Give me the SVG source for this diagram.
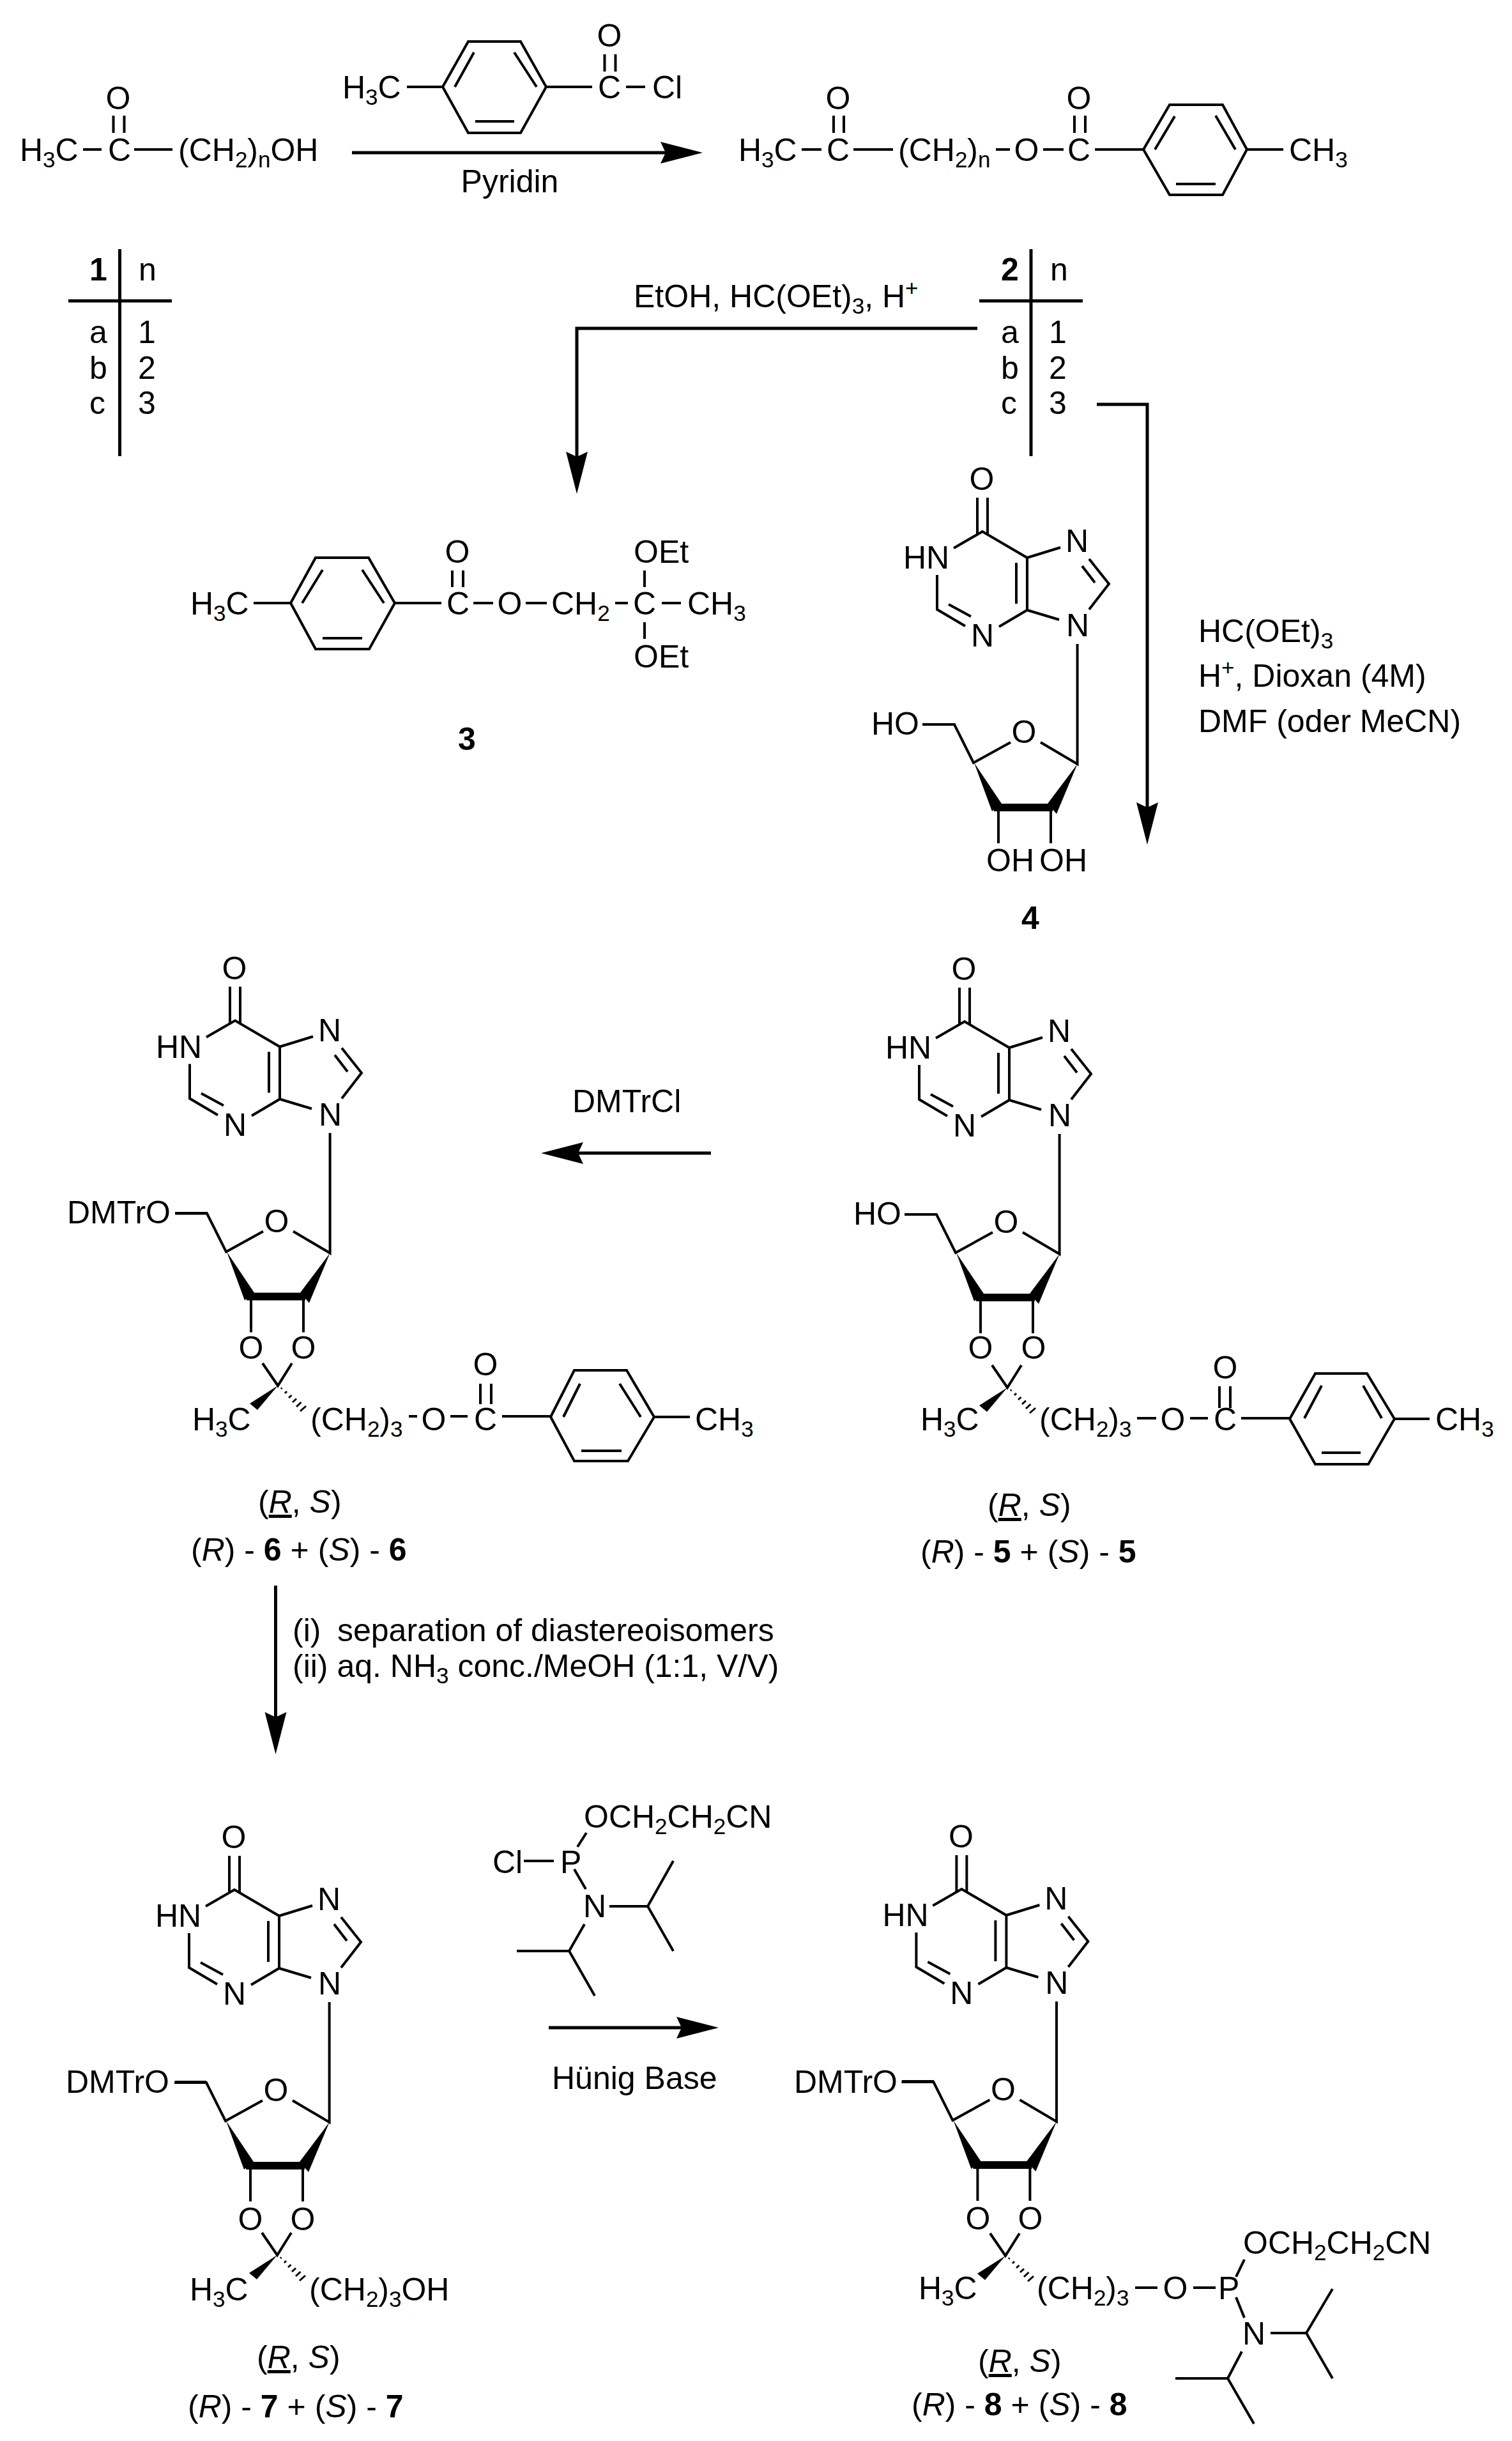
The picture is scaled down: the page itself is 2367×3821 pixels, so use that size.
<svg xmlns="http://www.w3.org/2000/svg" xmlns:xlink="http://www.w3.org/1999/xlink" width="2367" height="3821" viewBox="0 0 2367 3821">
<style>
text{font-family:"Liberation Sans",Arial,sans-serif;font-size:50px;fill:#000}
.m{text-anchor:middle}
.s{font-size:35px}
.b{font-weight:bold}
.i{font-style:italic}
.u{text-decoration:underline}
.bd,.bd line,.bd polyline{stroke:#000;stroke-width:4;fill:none;stroke-linejoin:miter}
.ar{stroke:#000;stroke-width:5;fill:none}
.tb{stroke:#000;stroke-width:5;fill:none}
.w{fill:#000;stroke:none}
</style>
<defs>
<marker id="head" markerUnits="userSpaceOnUse" markerWidth="66" markerHeight="36" viewBox="0 0 66 36" refX="8" refY="18" orient="auto"><path d="M0,1 L66,18 L0,35 L8,18 Z" fill="#000"/></marker>
<g id="sugarbase">
<g class="bd">
<line x1="1530" y1="779" x2="1530" y2="838"/><line x1="1546" y1="779" x2="1546" y2="838"/>
<polyline points="1493,858 1538,832 1608,873 1660,857"/>
<polyline points="1705,875 1736,914 1705,954"/>
<line x1="1694" y1="886" x2="1714" y2="912"/>
<polyline points="1658,970 1608,955 1564,981"/>
<line x1="1608" y1="873" x2="1608" y2="955"/>
<line x1="1591" y1="881" x2="1591" y2="945"/>
<polyline points="1511,980 1467,954 1467,900"/>
<line x1="1520" y1="965" x2="1485" y2="946"/>
<polyline points="1629,1162 1686.6,1196 1686.6,1008"/>
<polyline points="1582,1162 1524,1194 1494,1134 1444,1134"/>
<line x1="1563" y1="1268" x2="1563" y2="1320"/><line x1="1645" y1="1268" x2="1645" y2="1320"/>
</g>
<polygon class="w" points="1525,1194 1568,1258 1553,1270"/>
<polygon class="w" points="1686.6,1196 1640,1258 1654,1274"/>
<rect class="w" x="1556" y="1258" width="92" height="12"/>
</g>
<g id="ketal">
<g class="bd"><polyline points="-24,-35 0,0 22,-35"/></g>
<polygon class="w" points="0,0 -44,28 -32,38"/>
<g stroke="#000" stroke-width="3">
<line x1="5" y1="5" x2="6.5" y2="3.5"/><line x1="11" y1="12" x2="14" y2="9"/><line x1="17" y1="19" x2="21.5" y2="15"/><line x1="23" y1="26" x2="29" y2="20.5"/><line x1="29" y1="33" x2="36.5" y2="26"/><line x1="35" y1="40" x2="44" y2="32"/>
</g>
</g>
</defs>
<rect width="2367" height="3821" fill="#fff"/>

<g id="connectors">
<line class="ar" x1="551" y1="239" x2="1042" y2="239" marker-end="url(#head)"/>
<polyline class="ar" points="1530,514 903,514 903,715" marker-end="url(#head)"/>
<polyline class="ar" points="1717,633 1796,633 1796,1264" marker-end="url(#head)"/>
<line class="ar" x1="1113" y1="1805" x2="905" y2="1805" marker-end="url(#head)"/>
<line class="ar" x1="431.500" y1="2482" x2="431.500" y2="2688" marker-end="url(#head)"/>
<line class="ar" x1="859" y1="3174" x2="1067" y2="3174" marker-end="url(#head)"/>
</g>

<g id="label-pyridin"><text class="m" x="798" y="301">Pyridin</text></g>
<g id="label-etoh"><text x="992" y="481">EtOH, HC(OEt)<tspan class="s" dy="10">3</tspan><tspan dy="-10">, H</tspan><tspan class="s" dy="-18">+</tspan></text></g>
<g id="label-orthoformate"><text x="1876" y="1005">HC(OEt)<tspan class="s" dy="10">3</tspan></text><text x="1876" y="1075">H<tspan class="s" dy="-18">+</tspan><tspan dy="18">, Dioxan (4M)</tspan></text><text x="1876" y="1146">DMF (oder MeCN)</text></g>
<g id="label-dmtrcl"><text x="896" y="1741">DMTrCl</text></g>
<g id="label-separation"><text x="458" y="2569">(i)</text><text x="528" y="2569">separation of diastereoisomers</text><text x="458" y="2625">(ii) aq. NH<tspan class="s" dy="10">3</tspan><tspan dy="-10"> conc./MeOH (1:1, V/V)</tspan></text></g>
<g id="label-hunig"><text x="864" y="3270">Hünig Base</text></g>

<g id="mol-1">
<text x="31" y="252">H<tspan class="s" dy="10">3</tspan><tspan dy="-10">C</tspan></text>
<text class="m" x="187" y="252">C</text>
<text class="m" x="185" y="171">O</text>
<text x="279" y="252">(CH<tspan class="s" dy="10">2</tspan><tspan dy="-10">)</tspan><tspan class="s" dy="10">n</tspan><tspan dy="-10">OH</tspan></text>
<g class="bd"><line x1="130" y1="234" x2="159" y2="234"/><line x1="210" y1="234" x2="270" y2="234"/><line x1="177.500" y1="181" x2="177.500" y2="208"/><line x1="194.500" y1="181" x2="194.500" y2="208"/></g>
</g>

<g id="reagent-toluoyl-chloride">
<text x="536" y="154">H<tspan class="s" dy="10">3</tspan><tspan dy="-10">C</tspan></text>
<text class="m" x="954" y="154">C</text><text class="m" x="954" y="73">O</text><text x="1021" y="154">Cl</text>
<g class="bd"><line x1="637" y1="136" x2="693" y2="136"/><polygon points="693,136 733,65 815,65 855,136 815,208 733,208"/><line x1="712" y1="136" x2="742" y2="82"/><line x1="805" y1="82" x2="840" y2="136"/><line x1="744" y1="190" x2="805" y2="190"/><line x1="855" y1="136" x2="927" y2="136"/><line x1="980" y1="136" x2="1010" y2="136"/><line x1="946.500" y1="85" x2="946.500" y2="112"/><line x1="963.500" y1="85" x2="963.500" y2="112"/></g>
</g>

<g id="table-1">
<g class="tb"><line x1="187.500" y1="390" x2="187.500" y2="714"/><line x1="107" y1="471" x2="269" y2="471"/></g>
<text class="b" x="140" y="439">1</text><text x="217" y="439">n</text>
<text x="140" y="537">a</text><text x="216" y="537">1</text>
<text x="140" y="593">b</text><text x="216" y="593">2</text>
<text x="140" y="648">c</text><text x="216" y="648">3</text>
</g>

<g id="mol-2">
<text x="1156" y="252">H<tspan class="s" dy="10">3</tspan><tspan dy="-10">C</tspan></text>
<text class="m" x="1312" y="252">C</text><text class="m" x="1312" y="171">O</text>
<text x="1406" y="252">(CH<tspan class="s" dy="10">2</tspan><tspan dy="-10">)</tspan><tspan class="s" dy="10">n</tspan></text>
<text class="m" x="1607" y="252">O</text><text class="m" x="1689" y="252">C</text><text class="m" x="1689" y="171">O</text>
<text x="2018" y="252">CH<tspan class="s" dy="10">3</tspan></text>
<g class="bd"><line x1="1255" y1="234" x2="1286" y2="234"/><line x1="1336" y1="234" x2="1398" y2="234"/><line x1="1305" y1="181" x2="1305" y2="208"/><line x1="1321" y1="181" x2="1321" y2="208"/><line x1="1559" y1="234" x2="1581" y2="234"/><line x1="1633" y1="234" x2="1665" y2="234"/><line x1="1682" y1="181" x2="1682" y2="208"/><line x1="1699" y1="181" x2="1699" y2="208"/><line x1="1714" y1="234" x2="1790" y2="234"/><polygon points="1790,234 1831,164 1914,164 1952,234 1914,305 1831,305"/><line x1="1808" y1="234" x2="1839" y2="182"/><line x1="1903" y1="181" x2="1934" y2="234"/><line x1="1841" y1="288" x2="1903" y2="288"/><line x1="1952" y1="234" x2="2009" y2="234"/></g>
</g>

<g id="table-2">
<g class="tb"><line x1="1614" y1="390" x2="1614" y2="714"/><line x1="1533" y1="471" x2="1695" y2="471"/></g>
<text class="b" x="1567" y="439">2</text><text x="1644" y="439">n</text>
<text x="1567" y="537">a</text><text x="1642" y="537">1</text>
<text x="1567" y="593">b</text><text x="1642" y="593">2</text>
<text x="1567" y="648">c</text><text x="1642" y="648">3</text>
</g>

<g id="mol-3">
<text x="298" y="962">H<tspan class="s" dy="10">3</tspan><tspan dy="-10">C</tspan></text>
<text class="m" x="717" y="962">C</text><text class="m" x="716" y="881">O</text><text class="m" x="798" y="962">O</text>
<text x="863" y="962">CH<tspan class="s" dy="10">2</tspan></text>
<text class="m" x="1009" y="962">C</text><text x="1076" y="962">CH<tspan class="s" dy="10">3</tspan></text>
<text x="992" y="881">OEt</text><text x="992" y="1045">OEt</text>
<text class="b m" x="731" y="1174">3</text>
<g class="bd"><line x1="397" y1="944" x2="455" y2="944"/><polygon points="455,944 494,873 577,873 618,944 578,1016 494,1016"/><line x1="473" y1="944" x2="505" y2="892"/><line x1="567" y1="892" x2="601" y2="944"/><line x1="505" y1="999" x2="567" y2="999"/><line x1="618" y1="944" x2="691" y2="944"/><line x1="708" y1="893" x2="708" y2="919"/><line x1="725" y1="893" x2="725" y2="919"/><line x1="741" y1="944" x2="772" y2="944"/><line x1="823" y1="944" x2="856" y2="944"/><line x1="963" y1="944" x2="983" y2="944"/><line x1="1036" y1="944" x2="1066" y2="944"/><line x1="1009" y1="893" x2="1009" y2="919"/><line x1="1009" y1="974" x2="1009" y2="1000"/></g>
</g>

<g id="mol-4">
<use href="#sugarbase" xlink:href="#sugarbase"/>
<text class="m" x="1537" y="767">O</text><text x="1414" y="890">HN</text><text class="m" x="1686" y="864">N</text><text class="m" x="1687" y="996">N</text><text class="m" x="1538" y="1012">N</text><text class="m" x="1603" y="1163">O</text>
<text x="1364" y="1150">HO</text><text x="1544" y="1364">OH</text><text x="1627" y="1364">OH</text>
<text class="b m" x="1613" y="1454">4</text>
</g>

<g id="mol-5">
<g transform="translate(-28,767)"><use href="#sugarbase" xlink:href="#sugarbase"/>
<text class="m" x="1537" y="767">O</text><text x="1414" y="890">HN</text><text class="m" x="1686" y="864">N</text><text class="m" x="1687" y="996">N</text><text class="m" x="1538" y="1012">N</text><text class="m" x="1603" y="1163">O</text><text x="1364" y="1150">HO</text></g>
<text class="m" x="1535" y="2127">O</text><text class="m" x="1618" y="2127">O</text>
<use href="#ketal" xlink:href="#ketal" x="1577" y="2172"/>
<text x="1441" y="2239">H<tspan class="s" dy="10">3</tspan><tspan dy="-10">C</tspan></text>
<text x="1627" y="2239">(CH<tspan class="s" dy="10">2</tspan><tspan dy="-10">)</tspan><tspan class="s" dy="10">3</tspan></text>
<text class="m" x="1836" y="2239">O</text><text class="m" x="1918" y="2239">C</text><text class="m" x="1918" y="2158">O</text><text x="2247" y="2239">CH<tspan class="s" dy="10">3</tspan></text>
<g class="bd"><line x1="1780" y1="2220" x2="1810" y2="2220"/><line x1="1863" y1="2220" x2="1891" y2="2220"/><line x1="1909" y1="2170" x2="1909" y2="2204"/><line x1="1926" y1="2170" x2="1926" y2="2204"/><line x1="1943" y1="2220" x2="2019" y2="2220"/><polygon points="2019,2221 2059,2150 2140,2150 2183,2221 2142,2292 2059,2292"/><line x1="2042" y1="2220" x2="2069" y2="2169"/><line x1="2134" y1="2169" x2="2163" y2="2220"/><line x1="2069" y1="2274" x2="2130" y2="2274"/><line x1="2183" y1="2221" x2="2238" y2="2221"/></g>
<text x="1546" y="2373">(<tspan class="i u">R</tspan>, <tspan class="i">S</tspan>)</text>
<text x="1441" y="2446">(<tspan class="i">R</tspan>) - <tspan class="b">5</tspan> + (<tspan class="i">S</tspan>) - <tspan class="b">5</tspan></text>
</g>

<g id="mol-6">
<g transform="translate(-1170,765.500)"><use href="#sugarbase" xlink:href="#sugarbase"/>
<text class="m" x="1537" y="767">O</text><text x="1414" y="890">HN</text><text class="m" x="1686" y="864">N</text><text class="m" x="1687" y="996">N</text><text class="m" x="1538" y="1012">N</text><text class="m" x="1603" y="1163">O</text></g>
<text x="105" y="1915">DMTrO</text>
<g class="bd"><line x1="274" y1="1899" x2="325" y2="1899"/></g>
<text class="m" x="393" y="2127">O</text><text class="m" x="475" y="2127">O</text>
<use href="#ketal" xlink:href="#ketal" x="435" y="2169"/>
<text x="301" y="2239">H<tspan class="s" dy="10">3</tspan><tspan dy="-10">C</tspan></text>
<text x="486" y="2239">(CH<tspan class="s" dy="10">2</tspan><tspan dy="-10">)</tspan><tspan class="s" dy="10">3</tspan></text>
<text class="m" x="679" y="2239">O</text><text class="m" x="760" y="2239">C</text><text class="m" x="760" y="2153">O</text><text x="1088" y="2239">CH<tspan class="s" dy="10">3</tspan></text>
<g class="bd"><line x1="640" y1="2217" x2="653" y2="2217"/><line x1="705" y1="2217" x2="732" y2="2217"/><line x1="752" y1="2166" x2="752" y2="2198"/><line x1="769" y1="2166" x2="769" y2="2198"/><line x1="786" y1="2217" x2="862" y2="2217"/><polygon points="862,2218 899,2145 981,2145 1024,2218 983,2287 899,2287"/><line x1="882" y1="2218" x2="908" y2="2166"/><line x1="970" y1="2166" x2="1003" y2="2218"/><line x1="910" y1="2271" x2="973" y2="2271"/><line x1="1024" y1="2218" x2="1080" y2="2218"/></g>
<text x="404" y="2368">(<tspan class="i u">R</tspan>, <tspan class="i">S</tspan>)</text>
<text x="299" y="2443">(<tspan class="i">R</tspan>) - <tspan class="b">6</tspan> + (<tspan class="i">S</tspan>) - <tspan class="b">6</tspan></text>
</g>

<g id="mol-7">
<g transform="translate(-1171,2126)"><use href="#sugarbase" xlink:href="#sugarbase"/>
<text class="m" x="1537" y="767">O</text><text x="1414" y="890">HN</text><text class="m" x="1686" y="864">N</text><text class="m" x="1687" y="996">N</text><text class="m" x="1538" y="1012">N</text><text class="m" x="1603" y="1163">O</text></g>
<text x="103" y="3276">DMTrO</text>
<g class="bd"><line x1="274" y1="3259" x2="323" y2="3259"/></g>
<text class="m" x="392" y="3491">O</text><text class="m" x="474" y="3491">O</text>
<use href="#ketal" xlink:href="#ketal" x="434" y="3530"/>
<text x="297" y="3601">H<tspan class="s" dy="10">3</tspan><tspan dy="-10">C</tspan></text>
<text x="484" y="3601">(CH<tspan class="s" dy="10">2</tspan><tspan dy="-10">)</tspan><tspan class="s" dy="10">3</tspan><tspan dy="-10">OH</tspan></text>
<text x="402" y="3707">(<tspan class="i u">R</tspan>, <tspan class="i">S</tspan>)</text>
<text x="294" y="3784">(<tspan class="i">R</tspan>) - <tspan class="b">7</tspan> + (<tspan class="i">S</tspan>) - <tspan class="b">7</tspan></text>
</g>

<g id="reagent-phosphoramidite">
<text x="914" y="2861">OCH<tspan class="s" dy="10">2</tspan><tspan dy="-10">CH</tspan><tspan class="s" dy="10">2</tspan><tspan dy="-10">CN</tspan></text>
<text x="877" y="2932">P</text><text x="771" y="2932">Cl</text><text class="m" x="931" y="3001">N</text>
<g class="bd"><line x1="918" y1="2869" x2="904" y2="2891"/><line x1="820" y1="2913" x2="867" y2="2913"/><line x1="899" y1="2926" x2="917" y2="2957"/><polyline points="954,2984 1014,2984 1054,2913"/><line x1="1014" y1="2984" x2="1054" y2="3054"/><polyline points="915,3012 891,3054 809,3054"/><line x1="891" y1="3054" x2="931" y2="3124"/></g>
</g>

<g id="mol-8">
<g transform="translate(-32.600,2125)"><use href="#sugarbase" xlink:href="#sugarbase"/>
<text class="m" x="1537" y="767">O</text><text x="1414" y="890">HN</text><text class="m" x="1686" y="864">N</text><text class="m" x="1687" y="996">N</text><text class="m" x="1538" y="1012">N</text><text class="m" x="1603" y="1163">O</text></g>
<text x="1243" y="3276">DMTrO</text>
<g class="bd"><line x1="1412" y1="3258" x2="1462" y2="3258"/></g>
<text class="m" x="1531" y="3490">O</text><text class="m" x="1613" y="3490">O</text>
<use href="#ketal" xlink:href="#ketal" x="1574" y="3531"/>
<text x="1438" y="3599">H<tspan class="s" dy="10">3</tspan><tspan dy="-10">C</tspan></text>
<text x="1623" y="3599">(CH<tspan class="s" dy="10">2</tspan><tspan dy="-10">)</tspan><tspan class="s" dy="10">3</tspan></text>
<text class="m" x="1840" y="3599">O</text><text x="1907" y="3599">P</text>
<text x="1946" y="3528">OCH<tspan class="s" dy="10">2</tspan><tspan dy="-10">CH</tspan><tspan class="s" dy="10">2</tspan><tspan dy="-10">CN</tspan></text>
<text class="m" x="1963" y="3670">N</text>
<g class="bd"><line x1="1777" y1="3581" x2="1812" y2="3581"/><line x1="1868" y1="3581" x2="1903" y2="3581"/><line x1="1948" y1="3537" x2="1935" y2="3564"/><line x1="1935" y1="3596" x2="1948" y2="3628"/><polyline points="1989,3652 2045,3652 2086,3583"/><line x1="2045" y1="3652" x2="2086" y2="3723"/><polyline points="1944,3681 1922,3723 1840,3723"/><line x1="1922" y1="3723" x2="1963" y2="3794"/></g>
<text x="1531" y="3713">(<tspan class="i u">R</tspan>, <tspan class="i">S</tspan>)</text>
<text x="1427" y="3781">(<tspan class="i">R</tspan>) - <tspan class="b">8</tspan> + (<tspan class="i">S</tspan>) - <tspan class="b">8</tspan></text>
</g>
</svg>
